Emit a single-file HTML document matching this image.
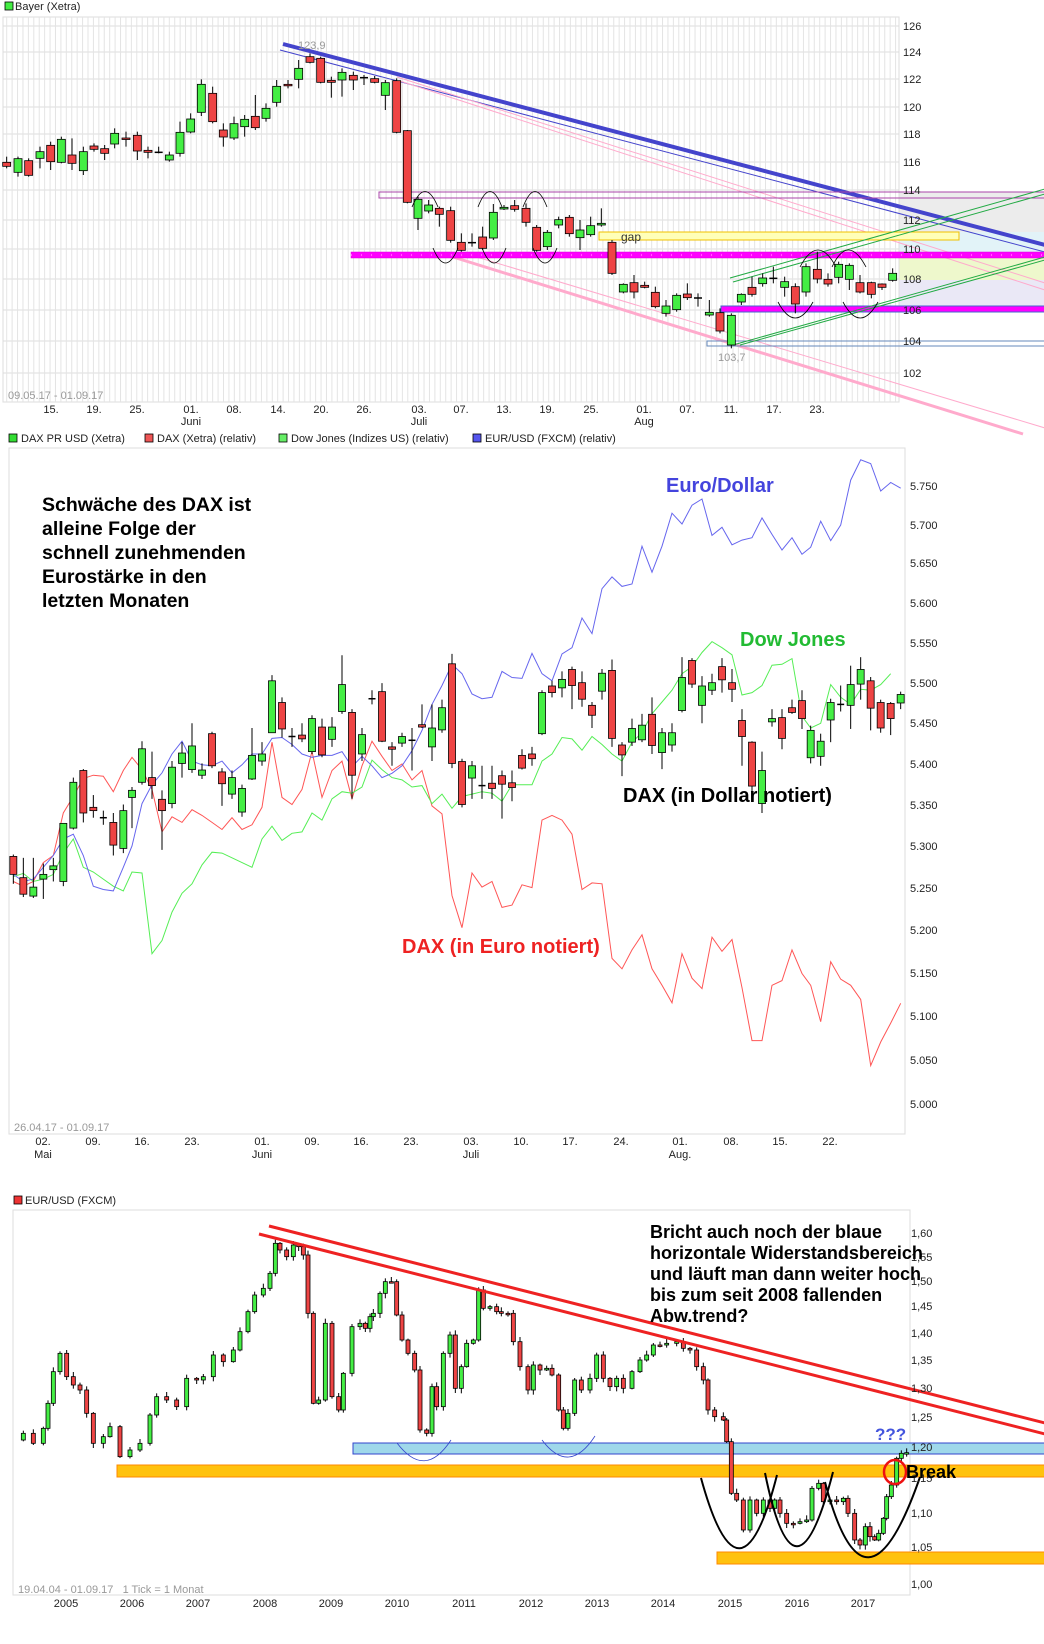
<!DOCTYPE html>
<html><head><meta charset="utf-8"><style>
html,body{margin:0;padding:0;background:#fff;}
svg{display:block;font-family:"Liberation Sans",Arial,sans-serif;}
.t{font-size:11px;fill:#222}
.g{font-size:11px;fill:#999}
.b{font-weight:bold;font-size:19.5px;fill:#000}
</style></head><body>
<svg id="s" width="1044" height="1644" viewBox="0 0 1044 1644" xmlns="http://www.w3.org/2000/svg">
<rect width="1044" height="1644" fill="#fff"/>
<g id="topbg"></g>
<rect x="3" y="17" width="896" height="385" fill="none" stroke="#ddd"/>
<g id="topgrid"></g>
<g id="topov"></g>
<g id="topc"></g>
<g id="topov2"></g>
<rect x="5" y="2" width="8" height="8" fill="#44ee44" stroke="#000" stroke-width="0.8"/>
<text x="15" y="10" class="t">Bayer (Xetra)</text>
<g class="t">
<text x="903" y="30">126</text><text x="903" y="56">124</text><text x="903" y="83">122</text><text x="903" y="111">120</text><text x="903" y="138">118</text><text x="903" y="166">116</text><text x="903" y="194">114</text><text x="903" y="224">112</text><text x="903" y="253">110</text><text x="903" y="283">108</text><text x="903" y="314">106</text><text x="903" y="345">104</text><text x="903" y="377">102</text>
</g>
<g class="t" text-anchor="middle">
<text x="51" y="413">15.</text><text x="94" y="413">19.</text><text x="137" y="413">25.</text><text x="191" y="413">01.</text><text x="234" y="413">08.</text><text x="278" y="413">14.</text><text x="321" y="413">20.</text><text x="364" y="413">26.</text><text x="419" y="413">03.</text><text x="461" y="413">07.</text><text x="504" y="413">13.</text><text x="547" y="413">19.</text><text x="591" y="413">25.</text><text x="644" y="413">01.</text><text x="687" y="413">07.</text><text x="731" y="413">11.</text><text x="774" y="413">17.</text><text x="817" y="413">23.</text>
<text x="191" y="425">Juni</text><text x="419" y="425">Juli</text><text x="644" y="425">Aug</text>
</g>
<text x="8" y="399" class="g">09.05.17 - 01.09.17</text>
<text x="298" y="49" class="g">123,9</text>
<text x="718" y="361" class="g">103,7</text>
<text x="621" y="241" font-size="12" fill="#333">gap</text>
<rect x="9" y="434" width="8" height="8" fill="#33dd33" stroke="#000" stroke-width="0.8"/><text x="21" y="442" class="t">DAX PR USD (Xetra)</text>
<rect x="145" y="434" width="8" height="8" fill="#ee5555" stroke="#000" stroke-width="0.8"/><text x="157" y="442" class="t">DAX (Xetra) (relativ)</text>
<rect x="279" y="434" width="8" height="8" fill="#66ee66" stroke="#000" stroke-width="0.8"/><text x="291" y="442" class="t">Dow Jones (Indizes US) (relativ)</text>
<rect x="473" y="434" width="8" height="8" fill="#5555ee" stroke="#000" stroke-width="0.8"/><text x="485" y="442" class="t">EUR/USD (FXCM) (relativ)</text>
<rect x="9" y="448" width="896" height="686" fill="none" stroke="#ddd"/>
<g id="midl"></g>
<g id="midc"></g>
<g class="t">
<text x="910" y="490">5.750</text><text x="910" y="529">5.700</text><text x="910" y="567">5.650</text><text x="910" y="607">5.600</text><text x="910" y="647">5.550</text><text x="910" y="687">5.500</text><text x="910" y="727">5.450</text><text x="910" y="768">5.400</text><text x="910" y="809">5.350</text><text x="910" y="850">5.300</text><text x="910" y="892">5.250</text><text x="910" y="934">5.200</text><text x="910" y="977">5.150</text><text x="910" y="1020">5.100</text><text x="910" y="1064">5.050</text><text x="910" y="1108">5.000</text>
</g>
<g class="t" text-anchor="middle">
<text x="43" y="1145">02.</text><text x="93" y="1145">09.</text><text x="142" y="1145">16.</text><text x="192" y="1145">23.</text><text x="262" y="1145">01.</text><text x="312" y="1145">09.</text><text x="361" y="1145">16.</text><text x="411" y="1145">23.</text><text x="471" y="1145">03.</text><text x="521" y="1145">10.</text><text x="570" y="1145">17.</text><text x="621" y="1145">24.</text><text x="680" y="1145">01.</text><text x="731" y="1145">08.</text><text x="780" y="1145">15.</text><text x="830" y="1145">22.</text>
<text x="43" y="1158">Mai</text><text x="262" y="1158">Juni</text><text x="471" y="1158">Juli</text><text x="680" y="1158">Aug.</text>
</g>
<text x="14" y="1131" class="g">26.04.17 - 01.09.17</text>
<g class="b">
<text x="42" y="511">Schwäche des DAX ist</text>
<text x="42" y="535">alleine Folge der</text>
<text x="42" y="559">schnell zunehmenden</text>
<text x="42" y="583">Eurostärke in den</text>
<text x="42" y="607">letzten Monaten</text>
</g>
<text x="666" y="492" font-size="20" font-weight="bold" fill="#4444dd">Euro/Dollar</text>
<text x="740" y="646" font-size="20" font-weight="bold" fill="#22bb33">Dow Jones</text>
<text x="623" y="802" font-size="20" font-weight="bold" fill="#000">DAX (in Dollar notiert)</text>
<text x="402" y="953" font-size="20" font-weight="bold" fill="#ee2222">DAX (in Euro notiert)</text>
<rect x="14" y="1196" width="8" height="8" fill="#ee3333" stroke="#000" stroke-width="0.8"/>
<text x="25" y="1204" class="t">EUR/USD (FXCM)</text>
<rect x="13" y="1210" width="897" height="385" fill="none" stroke="#ddd"/>
<g id="botov"></g>
<g id="botc"></g>
<g id="botov2"></g>
<g class="t">
<text x="911" y="1237">1,60</text><text x="911" y="1261">1,55</text><text x="911" y="1285">1,50</text><text x="911" y="1310">1,45</text><text x="911" y="1337">1,40</text><text x="911" y="1364">1,35</text><text x="911" y="1392">1,30</text><text x="911" y="1421">1,25</text><text x="911" y="1451">1,20</text><text x="911" y="1482">1,15</text><text x="911" y="1517">1,10</text><text x="911" y="1551">1,05</text><text x="911" y="1588">1,00</text>
</g>
<g class="t" text-anchor="middle">
<text x="66" y="1607">2005</text><text x="132" y="1607">2006</text><text x="198" y="1607">2007</text><text x="265" y="1607">2008</text><text x="331" y="1607">2009</text><text x="397" y="1607">2010</text><text x="464" y="1607">2011</text><text x="531" y="1607">2012</text><text x="597" y="1607">2013</text><text x="663" y="1607">2014</text><text x="730" y="1607">2015</text><text x="797" y="1607">2016</text><text x="863" y="1607">2017</text>
</g>
<text x="18" y="1593" class="g">19.04.04 - 01.09.17 &#160; 1 Tick = 1 Monat</text>
<g font-size="18" font-weight="bold" fill="#000">
<text x="650" y="1238">Bricht auch noch der blaue</text>
<text x="650" y="1259">horizontale Widerstandsbereich</text>
<text x="650" y="1280">und läuft man dann weiter hoch</text>
<text x="650" y="1301">bis zum seit 2008 fallenden</text>
<text x="650" y="1322">Abw.trend?</text>
</g>
<text x="875" y="1440" font-size="17" font-weight="bold" fill="#4455dd">???</text>
<text x="906" y="1478" font-size="18" font-weight="bold" fill="#000">Break</text>
</svg>
<script>
var NS="http://www.w3.org/2000/svg";
function el(p,n,a){var e=document.createElementNS(NS,n);for(var k in a)e.setAttribute(k,a[k]);document.getElementById(p).appendChild(e);return e;}
function candles(p,L,fx,fy,oy,w){L.forEach(function(c){var x=c[0]/fx,a=oy+c[1]/fy,b=oy+c[2]/fy,t=oy+c[4]/fy,bt=oy+c[5]/fy;
el(p,'line',{x1:x,x2:x,y1:t,y2:bt,stroke:'#000','stroke-width':1});
if(c[3]=='x'){el(p,'line',{x1:x-w/2,x2:x+w/2,y1:a,y2:a,stroke:'#000','stroke-width':1.5});}
else el(p,'rect',{x:x-w/2,y:Math.min(a,b),width:w,height:Math.max(1.5,Math.abs(b-a)),fill:c[3]=='g'?'#44ee44':'#ee4444',stroke:'#000','stroke-width':0.8});});}
function line(p,x1,y1,x2,y2,c,w){return el(p,'line',{x1:x1,y1:y1,x2:x2,y2:y2,stroke:c,'stroke-width':w});}
el('topbg','rect',{x:899,y:192,width:146,height:40,fill:'#ececec'});
el('topbg','rect',{x:899,y:232,width:146,height:21,fill:'#e2f3f8'});
el('topbg','rect',{x:899,y:258,width:146,height:22,fill:'#eef8cc'});
el('topbg','rect',{x:899,y:280,width:146,height:28,fill:'#eae8f6'});
[26,52,79,107,134,162,190,220,249,279,310,341,373].forEach(function(y){line('topgrid',3,y,899,y,'#dcdcdc',1)});
for(var x=6.7;x<899;x+=5.42)line('topgrid',x,17,x,402,'#e4e4e4',1);
line('topov',283,44,1045,245,'#4444cc',4);
line('topov',280,50,1045,252,'#4444cc',1);
line('topov',397,77,1045,283,'#ffaacc',1);line('topov',400,81,1045,290,'#ffaacc',1);
line('topov',453,257,1023,434,'#ffaacc',3);line('topov',460,252,1045,428,'#ffaacc',1);
el('topov','rect',{x:379,y:192,width:680,height:6,fill:'none',stroke:'#aa44aa','stroke-width':1});
el('topov','rect',{x:599,y:232,width:360,height:8,fill:'#ffffb8',stroke:'#f0c000','stroke-width':1});
el('topov','rect',{x:351,y:252,width:700,height:6,fill:'#ff00ff',stroke:'#dd00dd','stroke-width':0.5});
line('topov',351,255,1045,255,'#ffccff',1).setAttribute('stroke-dasharray','1 9');
el('topov','rect',{x:721,y:306,width:330,height:6,fill:'#ff00ff',stroke:'#4466cc','stroke-width':1});
el('topov','rect',{x:707,y:341,width:340,height:5,fill:'none',stroke:'#6688bb','stroke-width':1});
line('topov',730,278,1045,189,'#22aa44',1);line('topov',733,282,1045,194,'#22aa44',1);
line('topov',733,345,1045,257,'#22aa44',1);line('topov',740,345,1045,260,'#22aa44',1);
var T=[[10,487,499,'r',470,505],[27,476,517,'g',470,530],[43,482,526,'r',475,530],[60,455,475,'g',440,505],[76,436,485,'r',425,510],[92,418,487,'g',410,490],[108,465,490,'r',415,510],[125,455,512,'g',440,525],[141,438,448,'r',430,455],[157,446,460,'r',435,480],[172,400,432,'g',385,445],[189,414,418,'r',395,440],[206,406,453,'r',395,480],[222,451,457,'r',440,475],[238,457,457,'x',440,460],[254,465,480,'g',455,485],[270,397,460,'g',365,470],[286,357,396,'g',340,400],[302,253,337,'g',238,348],[319,280,365,'r',260,370],[335,390,411,'r',370,440],[351,371,414,'g',350,420],[367,358,380,'g',345,410],[383,349,383,'r',285,390],[399,325,355,'g',310,365],[415,259,307,'g',240,320],[432,253,257,'r',240,265],[448,205,238,'g',180,265],[465,170,187,'r',160,190],[481,175,247,'r',170,250],[497,241,247,'r',230,293],[513,217,240,'g',205,290],[530,226,240,'r',215,270],[546,233,233,'x',225,255],[562,236,247,'r',228,250],[578,248,286,'g',240,330],[595,242,397,'r',235,400],[611,392,607,'r',390,610],[627,598,655,'g',590,690],[643,615,633,'g',600,640],[659,625,643,'r',620,680],[676,632,721,'r',620,728],[692,727,751,'r',700,755],[708,728,728,'x',700,740],[724,711,745,'r',680,750],[740,637,714,'g',612,720],[756,622,627,'g',615,630],[772,617,628,'r',600,635],[789,625,667,'r',610,680],[805,682,751,'r',675,755],[821,697,740,'g',690,750],[838,659,675,'g',650,685],[854,652,701,'r',645,710],[870,690,713,'g',660,750],[886,677,704,'g',650,710],[902,670,675,'g',625,680],[918,727,820,'r',720,825],[935,853,876,'g',850,880],[951,848,876,'r',825,895],[967,856,862,'r',845,865],[983,877,920,'r',860,925],[999,918,940,'g',900,950],[1015,886,929,'g',880,935],[1031,882,893,'r',850,900],[1047,894,894,'x',880,920],[1064,937,945,'g',900,950],[1080,938,993,'r',925,1000],[1097,946,1035,'g',940,1045],[1112,883,906,'g',880,915],[1128,862,883,'r',830,890],[1144,834,851,'g',820,860],[1160,835,835,'x',800,850],[1177,845,862,'g',830,890],[1193,860,912,'r',850,940],[1209,800,876,'g',790,890],[1226,808,837,'r',755,850],[1242,838,852,'r',820,860],[1258,793,832,'g',785,850],[1274,796,838,'g',790,870],[1290,848,876,'r',825,880],[1307,848,883,'r',845,895],[1323,852,862,'r',850,870],[1339,820,841,'g',805,845]];
candles('topc',T,1.5,3,0,8);
function arc(p,x1,y1,cx,cy,x2,y2,c,w){el(p,'path',{d:'M'+x1+' '+y1+' Q'+cx+' '+cy+' '+x2+' '+y2,fill:'none',stroke:c,'stroke-width':w});}
[[412,207,438],[478,207,502],[523,207,547]].forEach(function(a){arc('topov2',a[0],a[1],(a[0]+a[2])/2,176,a[2],a[1],'#000',0.8)});
[[433,248,458],[482,248,506],[533,248,557]].forEach(function(a){arc('topov2',a[0],a[1],(a[0]+a[2])/2,278,a[2],a[1],'#000',0.8)});
arc('topov2',800,267,818,233,836,267,'#000',0.8);arc('topov2',832,267,848,233,866,267,'#000',0.8);
arc('topov2',778,302,795,334,813,302,'#000',0.8);arc('topov2',843,302,860,334,878,302,'#000',0.8);
function pl(p,P,c,w){var d='';P.forEach(function(q,i){d+=(i?'L':'M')+(q[0]/1.5).toFixed(1)+' '+(440+q[1]/2.118).toFixed(1)});el(p,'path',{d:d,fill:'none',stroke:c,'stroke-width':w});}
var X=[20,35,50,65,80,95,110,125,140,155,170,185,198,213,228,243,258,273,288,303,318,333,348,363,378,393,408,423,438,453,468,483,498,513,528,543,558,573,588,603,618,633,648,663,678,693,708,723,738,753,768,783,798,813,828,843,858,873,888,903,918,933,948,963,978,993,1008,1023,1038,1053,1068,1083,1098,1113,1128,1143,1158,1173,1188,1203,1216,1231,1246,1261,1276,1291,1306,1321,1336,1351];
function zp(Y){return Y.map(function(y,i){return [X[i],y]});}
var BL=[920,935,930,905,880,845,835,880,945,952,955,905,860,770,730,705,665,638,680,688,690,680,705,688,665,665,632,630,645,665,672,668,668,660,692,670,690,715,706,690,658,615,560,520,475,495,538,548,545,490,503,505,452,495,510,453,440,377,410,315,290,310,305,225,280,225,155,178,138,125,202,185,222,212,207,165,200,233,207,242,227,172,213,180,85,42,50,108,90,102];
var GR=[925,918,935,930,920,875,845,905,915,930,945,955,915,917,1088,1060,1000,960,940,900,873,875,885,895,905,845,818,848,833,830,790,805,760,745,748,735,678,698,715,720,735,732,770,750,780,755,750,745,748,765,730,730,730,680,665,630,633,657,628,645,665,680,640,620,580,555,530,495,480,450,427,440,455,540,535,520,477,475,463,585,610,600,518,545,560,528,530,518,495];
var RD=[935,945,935,895,880,790,755,717,710,712,745,700,672,698,740,830,798,810,783,795,810,825,800,825,815,778,640,757,772,740,660,757,700,680,760,690,638,670,700,686,720,700,775,792,965,1033,917,947,935,990,985,942,948,805,795,805,835,952,938,940,1098,1120,1080,1048,1120,1155,1192,1088,1140,1162,1053,1083,1058,1160,1272,1272,1155,1145,1080,1130,1155,1232,1105,1142,1155,1185,1325,1275,1235,1193];
pl('midl',zp(RD),'#ff5555',1);pl('midl',zp(GR),'#55ee55',1);pl('midl',zp(BL),'#6666ee',1);
var M=[[20,882,920,'r',878,940],[35,927,962,'r',885,968],[50,947,966,'g',885,970],[65,920,930,'g',897,972],[80,902,910,'g',885,935],[95,812,935,'g',812,945],[110,725,822,'g',715,825],[125,700,790,'r',697,810],[140,778,785,'r',752,800],[155,800,800,'x',785,815],[170,810,858,'r',790,880],[185,785,865,'g',772,875],[198,742,757,'g',735,822],[213,654,725,'g',638,730],[228,715,732,'r',660,760],[243,761,785,'r',742,868],[258,693,770,'g',680,780],[273,663,685,'g',640,715],[288,648,698,'g',600,705],[303,699,710,'g',685,718],[318,622,690,'r',618,695],[333,703,728,'r',695,775],[348,715,750,'g',700,760],[363,738,788,'g',730,798],[378,668,718,'g',610,720],[393,665,680,'g',640,690],[408,510,620,'g',498,620],[423,556,612,'r',545,630],[438,628,628,'x',610,650],[453,625,633,'r',600,640],[468,590,660,'g',583,665],[483,608,667,'r',590,672],[498,608,634,'g',587,650],[513,518,575,'g',456,580],[528,577,710,'r',570,760],[543,624,665,'g',610,680],[558,548,548,'x',530,560],[573,533,638,'r',515,640],[588,650,655,'r',640,690],[603,628,642,'g',620,650],[618,636,636,'x',610,700],[633,603,608,'r',560,610],[648,610,650,'g',560,680],[663,567,614,'g',550,620],[678,474,685,'r',453,695],[693,681,772,'r',675,778],[708,690,716,'g',680,760],[723,732,732,'x',690,760],[738,727,738,'r',690,760],[753,711,729,'r',700,802],[768,726,736,'r',700,765],[783,668,695,'r',655,698],[798,665,675,'r',650,690],[813,535,622,'g',530,625],[828,521,535,'r',510,545],[843,507,525,'g',490,545],[858,486,520,'r',480,570],[873,514,549,'r',490,565],[888,562,583,'r',555,610],[903,494,532,'g',485,550],[918,488,632,'r',465,650],[933,646,667,'r',640,712],[948,611,640,'g',590,648],[963,604,635,'g',580,640],[978,581,647,'r',545,665],[993,620,662,'g',610,697],[1008,620,646,'g',600,660],[1023,503,573,'g',460,577],[1038,467,517,'r',462,525],[1053,521,562,'g',500,600],[1068,514,530,'g',495,540],[1083,480,508,'r',462,535],[1098,514,528,'r',485,555],[1113,594,628,'r',570,690],[1128,640,733,'r',638,745],[1143,700,770,'g',660,790],[1158,590,597,'g',570,607],[1173,588,632,'r',570,655],[1188,567,577,'r',550,580],[1203,552,590,'r',530,612],[1216,615,673,'g',605,685],[1231,638,670,'g',622,690],[1246,556,593,'g',548,640],[1261,560,560,'x',520,575],[1276,518,562,'g',478,612],[1291,486,517,'g',460,550],[1306,510,568,'r',502,615],[1321,556,610,'r',550,620],[1336,558,590,'r',555,625],[1351,539,557,'g',533,570]];
candles('midc',M,1.5,2.118,440,7);
el('botov','rect',{x:353,y:1443,width:700,height:11,fill:'#9fd8ea',stroke:'#3344cc','stroke-width':1});
el('botov','rect',{x:117,y:1465,width:940,height:12,fill:'#ffc20e',stroke:'#ff8800','stroke-width':1});
el('botov','rect',{x:717,y:1552,width:340,height:12,fill:'#ffc20e',stroke:'#ff8800','stroke-width':1});
var B=[[22,780],[35,760],[50,790],[65,745],[72,670],[80,575],[90,520],[100,590],[110,615],[120,630],[130,700],[140,790],[155,770],[165,740],[180,830],[195,810],[210,790],[225,705],[235,650],[250,660],[265,680],[280,595],[295,600],[305,590],[320,525],[335,545],[350,510],[360,455],[372,395],[382,345],[395,325],[405,280],[413,190],[420,210],[430,230],[440,195],[448,200],[455,225],[462,400],[470,670],[478,660],[488,430],[498,650],[508,690],[515,580],[528,440],[540,430],[548,445],[555,410],[560,400],[570,340],[578,305],[587,305],[595,405],[603,480],[612,520],[622,570],[630,750],[640,760],[648,620],[655,680],[665,520],[675,465],[683,625],[692,560],[700,490],[710,480],[718,330],[725,385],[735,380],[745,395],[752,400],[762,400],[770,485],[780,560],[792,630],[800,555],[810,570],[820,565],[828,585],[838,690],[845,745],[852,700],[862,600],[872,630],[885,595],[895,525],[905,595],[915,620],[925,595],[935,625],[948,575],[960,540],[970,525],[980,495],[990,495],[1000,490],[1015,485],[1025,505],[1035,510],[1045,560],[1055,600],[1062,690],[1072,710],[1085,720],[1090,785],[1097,940],[1105,960],[1115,1050],[1125,960],[1135,1000],[1145,960],[1155,985],[1162,960],[1170,1000],[1180,1030],[1190,1030],[1200,1025],[1210,1020],[1218,925],[1228,910],[1235,965],[1245,960],[1255,965],[1265,955],[1272,1000],[1282,1080],[1290,1095],[1298,1040],[1305,1070],[1312,1080],[1318,1060],[1325,1015],[1330,950],[1337,915],[1345,835],[1352,820],[1360,818]];
var BC=[];for(var i=1;i<B.length;i++){var o=B[i-1][1],c=B[i][1],r=(i*37%11)+4;BC.push([B[i][0],Math.min(o,c),Math.max(o,c),c<o?'g':'r',Math.min(o,c)-r,Math.max(o,c)+((i*53)%13)+3]);}
candles('botc',BC,1.5,3,1180,4);
line('botov2',269,1226,1045,1423,'#ee2222',3);line('botov2',259,1234,1045,1434,'#ee2222',3);
arc('botov2',397,1443,425,1480,451,1440,'#3344cc',0.8);arc('botov2',542,1440,569,1476,595,1436,'#3344cc',0.8);
arc('botov2',701,1478,740,1620,777,1475,'#000',2);arc('botov2',765,1473,795,1620,833,1472,'#000',2);arc('botov2',825,1482,865,1635,920,1477,'#000',2);
el('botov2','ellipse',{cx:895,cy:1472,rx:11,ry:12,fill:'none',stroke:'#ee1111','stroke-width':2.5});
</script>
</body></html>
